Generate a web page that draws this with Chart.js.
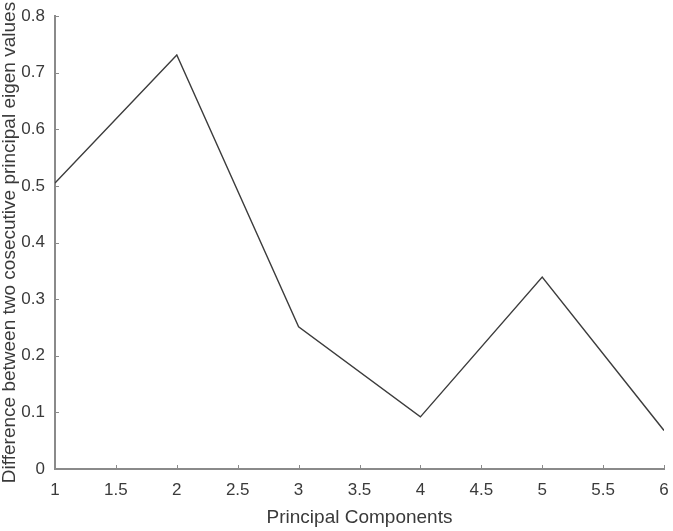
<!DOCTYPE html>
<html lang="en">
<head>
    <meta charset="UTF-8">
    <title>Principal Components</title>
    <script src="https://cdn.jsdelivr.net/npm/chart.js"></script>
    <style>
        html, body {
            margin: 0;
            padding: 0;
            background-color: white;
        }
        #wrap {
            width: 673px;
            height: 531px;
        }
    </style>
</head>
<body>
    <div id="wrap"><canvas id="pcChart"></canvas></div>

    <script>
        // data
        const components = [1, 2, 3, 4, 5, 6];
        const eigenDiff = [0.505, 0.731, 0.251, 0.092, 0.339, 0.068];
        const xTicks = [1, 1.5, 2, 2.5, 3, 3.5, 4, 4.5, 5, 5.5, 6];
        const yTicks = [0, 0.1, 0.2, 0.3, 0.4, 0.5, 0.6, 0.7, 0.8];

        const axisColor = '#8a8a8a';
        const textColor = '#3a3a3a';
        const fontFamily = '"Liberation Sans", Arial, sans-serif';

        // MATLAB style: short ticks pointing into the plot
        const innerTicks = {
            id: 'innerTicks',
            afterDraw(chart) {
                const ctx = chart.ctx;
                const xs = chart.scales.x;
                const ys = chart.scales.y;
                const len = 4;
                ctx.save();
                ctx.strokeStyle = axisColor;
                ctx.lineWidth = 1;
                ctx.beginPath();
                xTicks.forEach(v => {
                    const px = Math.round(xs.getPixelForValue(v)) + 0.5;
                    ctx.moveTo(px, ys.bottom);
                    ctx.lineTo(px, ys.bottom - len);
                });
                yTicks.forEach(v => {
                    const py = Math.round(ys.getPixelForValue(v)) + 0.5;
                    ctx.moveTo(xs.left, py);
                    ctx.lineTo(xs.left + len, py);
                });
                ctx.stroke();
                ctx.restore();
            }
        };

        const pcChart = new Chart(document.getElementById('pcChart').getContext('2d'), {
            type: 'line',
            data: {
                datasets: [{
                    label: 'Eigen value difference',
                    data: components.map((c, i) => ({ x: c, y: eigenDiff[i] })),
                    borderColor: '#3c3c3c',
                    borderWidth: 1.4,
                    pointRadius: 0,
                    fill: false,
                    tension: 0
                }]
            },
            options: {
                responsive: true,
                maintainAspectRatio: false,
                animation: false,
                layout: { padding: { top: 16, right: 9, left: 0, bottom: 0 } },
                plugins: {
                    legend: { display: false },
                    tooltip: { enabled: false }
                },
                scales: {
                    x: {
                        type: 'linear',
                        min: 1,
                        max: 6,
                        afterBuildTicks: scale => { scale.ticks = xTicks.map(v => ({ value: v })); },
                        afterFit: scale => { scale.height = 62; },
                        grid: { drawOnChartArea: false, drawTicks: true, tickLength: 11, color: 'rgba(0,0,0,0)' },
                        border: { display: true, color: axisColor, width: 2 },
                        ticks: {
                            color: textColor,
                            font: { family: fontFamily, size: 17 },
                            padding: 0,
                            maxRotation: 0,
                            autoSkip: false,
                            callback: v => String(v)
                        },
                        title: {
                            display: true,
                            text: 'Principal Components',
                            color: textColor,
                            font: { family: fontFamily, size: 19, lineHeight: 1.2 },
                            padding: { top: 0, bottom: 2 }
                        }
                    },
                    y: {
                        min: 0,
                        max: 0.8,
                        afterBuildTicks: scale => { scale.ticks = yTicks.map(v => ({ value: v })); },
                        afterFit: scale => { scale.width = 55; },
                        grid: { drawOnChartArea: false, drawTicks: true, tickLength: 10, color: 'rgba(0,0,0,0)' },
                        border: { display: true, color: axisColor, width: 2 },
                        ticks: {
                            color: textColor,
                            font: { family: fontFamily, size: 17 },
                            padding: 0,
                            autoSkip: false,
                            callback: v => String(v)
                        },
                        title: {
                            display: true,
                            text: 'Difference between two cosecutive principal eigen values',
                            color: textColor,
                            font: { family: fontFamily, size: 19, lineHeight: 1 },
                            padding: { top: 0, bottom: 0 }
                        }
                    }
                }
            },
            plugins: [innerTicks]
        });
    </script>
</body>
</html>
